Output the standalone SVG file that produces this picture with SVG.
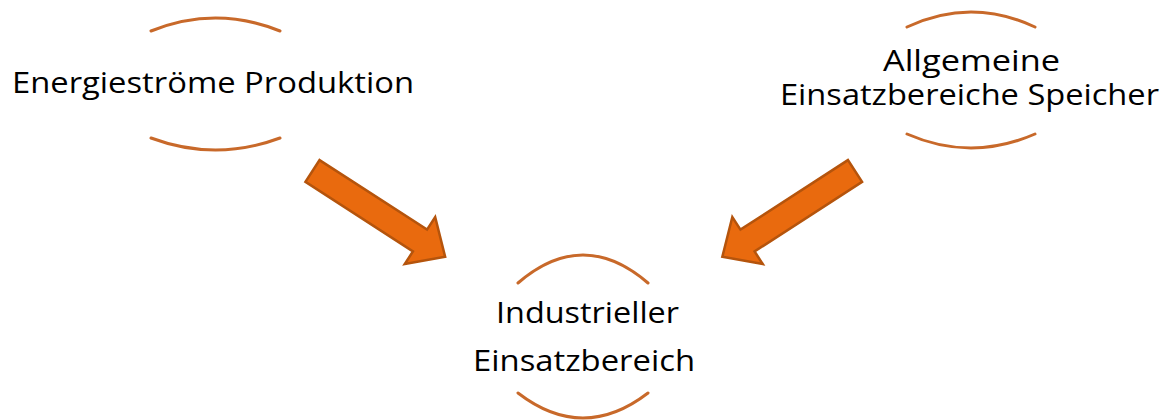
<svg xmlns="http://www.w3.org/2000/svg" width="1169" height="420" viewBox="0 0 1169 420">
  <style>
    .arc { fill: none; stroke: #C8692A; stroke-width: 3; stroke-linecap: round; }
    .lbl { font-family: "Open Sans", "DejaVu Sans", sans-serif; font-size: 30px; fill: #000; text-anchor: middle; }
    .arrow { fill: #E96A0E; stroke: #B5540C; stroke-width: 2.5; stroke-linejoin: miter; }
  </style>
  <defs>
    <path id="arrowShape" d="M0,-13 L128,-13 L128,-28 L158,0 L128,28 L128,13 L0,13 Z"/>
  </defs>
  <rect width="1169" height="420" fill="#fff"/>
  <g id="node-energie">
    <path class="arc" d="M151,31 Q215.5,5 280,31"/>
    <path class="arc" d="M151,138 Q215.5,162 280,138"/>
    <text class="lbl" x="213" y="93" textLength="402" lengthAdjust="spacingAndGlyphs">Energieströme Produktion</text>
  </g>
  <g id="node-allgemein">
    <path class="arc" d="M907,27 Q971,-3 1035,27"/>
    <path class="arc" d="M907,134 Q971,162 1035,134"/>
    <text class="lbl" x="971.5" y="71" textLength="177" lengthAdjust="spacingAndGlyphs">Allgemeine</text>
    <text class="lbl" x="969.5" y="105" textLength="379" lengthAdjust="spacingAndGlyphs">Einsatzbereiche Speicher</text>
  </g>
  <g id="node-industrie">
    <path class="arc" d="M518,283 Q583,227 648,283"/>
    <path class="arc" d="M518,393 Q583,443 648,393"/>
    <text class="lbl" x="587.5" y="323" textLength="183" lengthAdjust="spacingAndGlyphs">Industrieller</text>
    <text class="lbl" x="584" y="371" textLength="222" lengthAdjust="spacingAndGlyphs">Einsatzbereich</text>
  </g>
  <g id="connectors">
    <use href="#arrowShape" class="arrow" transform="translate(312.5,171) rotate(32.9)"/>
    <use href="#arrowShape" class="arrow" transform="translate(855,171) rotate(147.1)"/>
  </g>
</svg>
